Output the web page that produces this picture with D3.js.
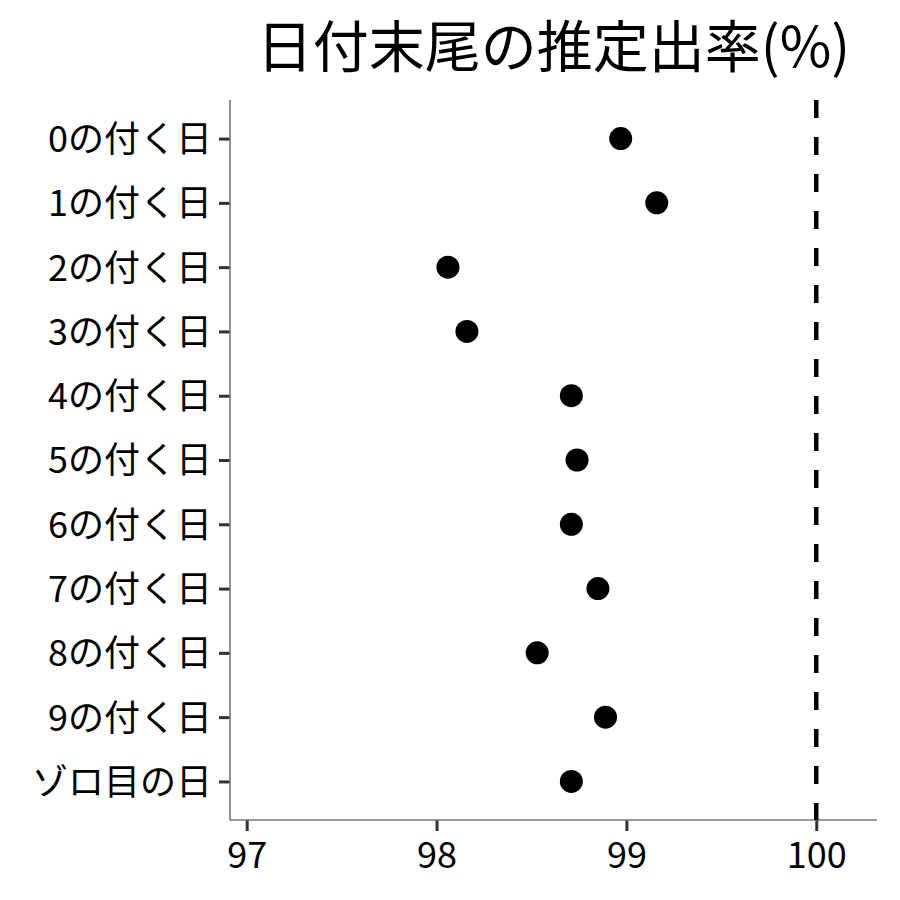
<!DOCTYPE html>
<html><head><meta charset="utf-8">
<script src="https://cdn.jsdelivr.net/npm/d3@7"></script>
<style>body{margin:0;background:#fff}</style>
</head><body>
<svg id="c" width="900" height="900"></svg>
<script>
const categories = ["0の付く日","1の付く日","2の付く日","3の付く日","4の付く日","5の付く日","6の付く日","7の付く日","8の付く日","9の付く日","ゾロ目の日"];
const values = [98.97, 99.16, 98.06, 98.16, 98.71, 98.74, 98.71, 98.85, 98.53, 98.89, 98.71];
const xTicks = [97, 98, 99, 100];
const refLine = 100;
const title = "日付末尾の推定出率(%)";

const svg = d3.select("#c");
const font = "'Noto Sans CJK JP','Noto Sans',sans-serif";
const L = 230, R = 877, T = 100, B = 820;

const x = d3.scaleLinear().domain([96.912, 100.32]).range([L, R]);
const y = d3.scalePoint().domain(categories).range([T, B]).padding(0.6);

// axes
const gx = svg.append("g").attr("transform", `translate(0,${B})`)
  .call(d3.axisBottom(x).tickValues(xTicks).tickSize(11).tickPadding(6).tickFormat(d3.format("d")));
const gy = svg.append("g").attr("transform", `translate(${L},0)`)
  .call(d3.axisLeft(y).tickSize(11).tickPadding(7));
[gx, gy].forEach(g => {
  g.select(".domain").remove();
  g.selectAll(".tick line").attr("stroke", "#333").attr("stroke-width", 3);
  g.selectAll(".tick text").attr("fill", "#000").style("font-family", font).style("font-size", "36px");
});
gx.selectAll(".tick text").attr("dy", "0.85em");
gy.selectAll(".tick text").attr("dy", "0.36em");

svg.append("line").attr("x1", L).attr("x2", L).attr("y1", T).attr("y2", B + 0.5)
  .attr("stroke", "#777").attr("stroke-width", 1.6);
svg.append("line").attr("x1", L).attr("x2", R).attr("y1", B).attr("y2", B)
  .attr("stroke", "#777").attr("stroke-width", 1.6);

// reference line
svg.append("line").attr("x1", x(refLine)).attr("x2", x(refLine)).attr("y1", T).attr("y2", B)
  .attr("stroke", "#000").attr("stroke-width", 4.5).attr("stroke-dasharray", "18,19");

// points
svg.append("g").selectAll("circle").data(categories).join("circle")
  .attr("cx", (d, i) => x(values[i])).attr("cy", d => y(d)).attr("r", 11.5).attr("fill", "#000");

// title
svg.append("text").attr("x", (L + R) / 2).attr("y", 67).attr("text-anchor", "middle")
  .style("font-family", font).style("font-size", "56px").attr("fill", "#000").text(title);
</script>
</body></html>
